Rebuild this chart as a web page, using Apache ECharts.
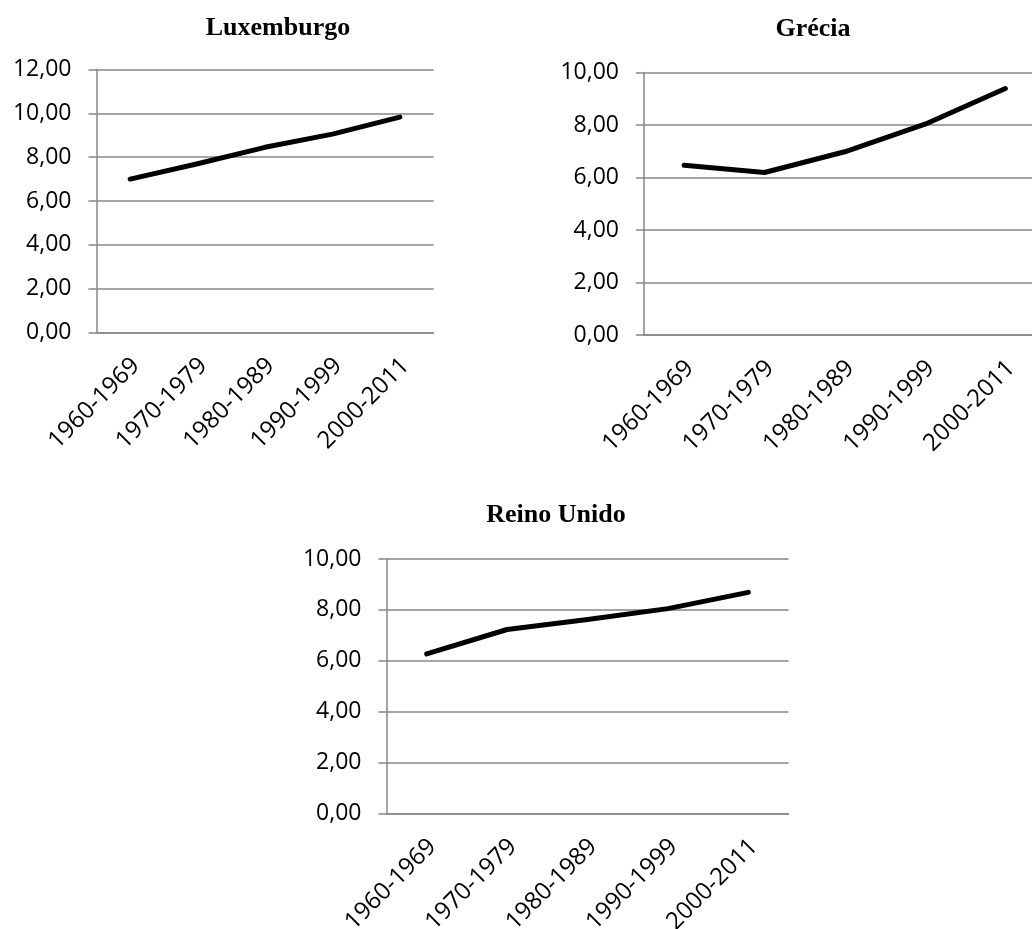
<!DOCTYPE html>
<html>
<head>
<meta charset="utf-8">
<title>Luxemburgo, Grécia, Reino Unido</title>
<script src="https://cdn.jsdelivr.net/npm/echarts@6/dist/echarts.min.js"></script>
<style>
  html, body { margin: 0; padding: 0; background: #ffffff; }
  #chart { width: 1032px; height: 929px; }
</style>
</head>
<body>
<div id="chart"></div>
<script>
// Decades shown on every panel
const periods = ['1960-1969', '1970-1979', '1980-1989', '1990-1999', '2000-2011'];

// Values per country, one per decade
const luxemburgo = [7.00, 7.70, 8.45, 9.05, 9.83];
const grecia     = [6.47, 6.19, 6.98, 8.03, 9.39];
const reinoUnido = [6.27, 7.23, 7.62, 8.05, 8.69];

// Panel titles
const titles = ['Luxemburgo', 'Grécia', 'Reino Unido'];

// Y axis ranges
const yMax = [12, 10, 10];
const yStep = 2;

const panels = [luxemburgo, grecia, reinoUnido];

const AXIS_GRAY = '#868686';
const LABEL_FONT = '"Open Sans", "Noto Sans", sans-serif';

const grids = [
  { left: 96.5, top: 69.5, width: 337, height: 263 },
  { left: 644, top: 72.5, width: 401.5, height: 262.5 },
  { left: 386.5, top: 559, width: 402, height: 254.5 }
];

const fmt = v => v.toFixed(2).replace('.', ',');

const chart = echarts.init(document.getElementById('chart'), null, { renderer: 'canvas' });

const option = {
  backgroundColor: '#ffffff',
  animation: false,
  title: [
    { text: titles[0], left: 273, top: 10, textAlign: 'center' },
    { text: titles[1], left: 808, top: 11, textAlign: 'center' },
    { text: titles[2], left: 551, top: 497, textAlign: 'center' }
  ].map(t => Object.assign(t, {
    textStyle: {
      fontFamily: '"Liberation Serif", "Times New Roman", serif',
      fontWeight: 'bold',
      fontSize: 26,
      color: '#000000'
    }
  })),
  // fixed plot rectangles; labels may sit near the canvas edge
  grid: grids.map(g => Object.assign({ containLabel: false, outerBoundsMode: 'none' }, g)),
  xAxis: panels.map((_, i) => ({
    type: 'category',
    gridIndex: i,
    data: periods,
    boundaryGap: true,
    axisLine: { lineStyle: { color: AXIS_GRAY, width: 1.5 } },
    axisTick: { alignWithLabel: false, length: 7, lineStyle: { color: AXIS_GRAY, width: 1.5 } },
    axisLabel: {
      rotate: 45,
      margin: 35,
      interval: 0,
      padding: [0, -8, 0, 0],
      fontFamily: LABEL_FONT,
      fontSize: 24,
      color: '#000000'
    },
    splitLine: { show: false }
  })),
  yAxis: panels.map((_, i) => ({
    type: 'value',
    gridIndex: i,
    min: 0,
    max: yMax[i],
    interval: yStep,
    axisLine: { show: true, lineStyle: { color: AXIS_GRAY, width: 1.5 } },
    axisTick: { show: true, length: 8, lineStyle: { color: AXIS_GRAY, width: 1.5 } },
    axisLabel: {
      margin: 25,
      formatter: fmt,
      fontFamily: LABEL_FONT,
      fontSize: 23,
      color: '#000000'
    },
    splitLine: { show: true, lineStyle: { color: AXIS_GRAY, width: 1.5 } }
  })),
  series: panels.map((vals, i) => ({
    type: 'line',
    xAxisIndex: i,
    yAxisIndex: i,
    data: vals,
    symbol: 'none',
    lineStyle: { color: '#000000', width: 5, cap: 'round', join: 'round' },
    z: 5
  }))
};

chart.setOption(option);
</script>
</body>
</html>
